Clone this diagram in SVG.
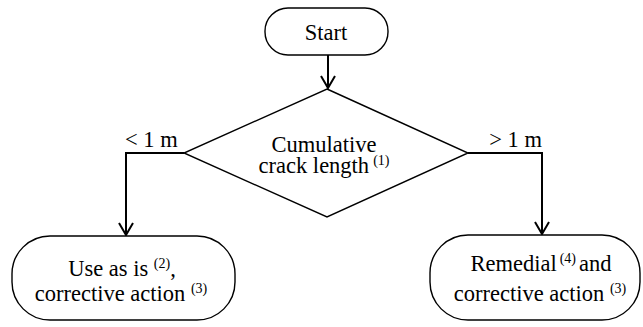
<svg xmlns="http://www.w3.org/2000/svg" width="643" height="327" viewBox="0 0 643 327">
<style>
.shape{fill:#fff;stroke:#000;stroke-width:1.4}
.conn{fill:none;stroke:#000;stroke-width:2}
.t{font-size:22.5px;fill:#000}
.c{text-anchor:middle}
.sup{font-size:14px}
</style>
<defs>
<marker id="arr" viewBox="0 0 14 16" refX="13" refY="8" markerWidth="14" markerHeight="16" markerUnits="userSpaceOnUse" orient="auto">
<path d="M1,1 L13,8 L1,15" fill="none" stroke="#000" stroke-width="2"/>
</marker>
</defs>
<g id="connectors">
<line class="conn" x1="328" y1="55" x2="328" y2="88" marker-end="url(#arr)"/>
<polyline class="conn" points="184,153 126,153 126,235" marker-end="url(#arr)"/>
<polyline class="conn" points="468,153 542,153 542,234" marker-end="url(#arr)"/>
</g>
<g font-family="Liberation Serif, Times New Roman, serif">
<g id="start">
<rect class="shape" x="265" y="8" width="123" height="47" rx="23" ry="23"/>
<text class="t c" font-family="Liberation Serif, serif" x="326" y="40">Start</text>
</g>
<g id="decision">
<polygon class="shape" points="327,89 468,153 327,217 184,153"/>
<text class="t c" font-family="Liberation Serif, serif"><tspan x="324" y="152">Cumulative</tspan><tspan x="324" y="173">crack length<tspan class="sup" dx="4" dy="-8">(1)</tspan></tspan></text>
</g>
<g id="labels">
<text class="t" font-family="Liberation Serif, serif" x="125" y="147">&lt; 1 m</text>
<text class="t" font-family="Liberation Serif, serif" x="542" y="147" text-anchor="end">&gt; 1 m</text>
</g>
<g id="use-as-is">
<rect class="shape" x="12" y="236" width="223" height="84" rx="38" ry="38"/>
<text class="t c" font-family="Liberation Serif, serif"><tspan x="122" y="276">Use as is <tspan class="sup" dy="-8">(2)</tspan><tspan dy="8">,</tspan></tspan><tspan x="121" y="301">corrective action <tspan class="sup" dy="-8">(3)</tspan></tspan></text>
</g>
<g id="remedial">
<rect class="shape" x="430" y="235" width="210" height="85" rx="38" ry="38"/>
<text class="t c" font-family="Liberation Serif, serif"><tspan x="541" y="271">Remedial<tspan class="sup" dx="3" dy="-8">(4)</tspan><tspan dx="3" dy="8">and</tspan></tspan><tspan x="540" y="301">corrective action <tspan class="sup" dy="-8">(3)</tspan></tspan></text>
</g>
</g>
</svg>
